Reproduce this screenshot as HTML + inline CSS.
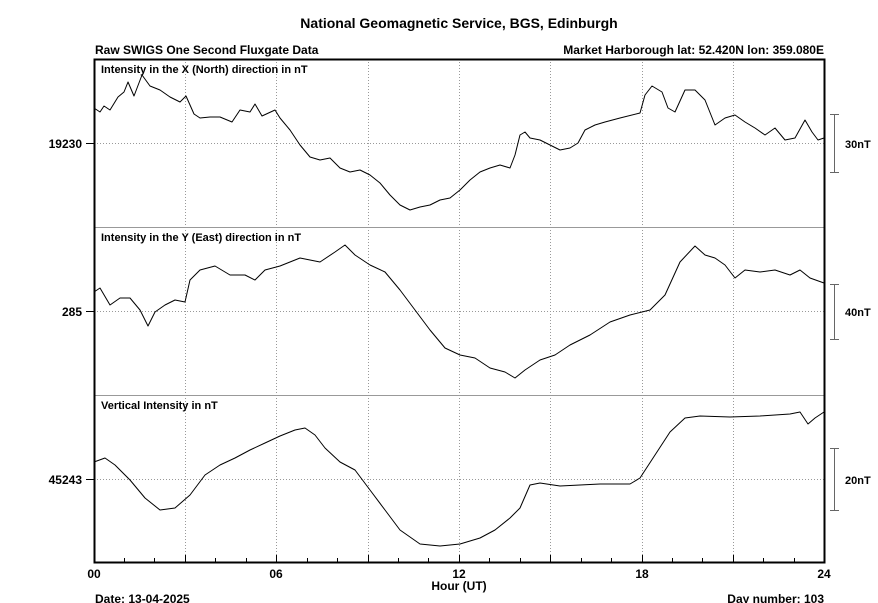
<!DOCTYPE html>
<html><head><meta charset="utf-8"><style>
html,body{margin:0;padding:0;background:#fff;width:878px;height:603px;overflow:hidden}
text{font-family:"Liberation Sans",Arial,sans-serif;font-weight:bold;fill:#000}
</style></head><body>
<svg width="878" height="603" viewBox="0 0 878 603" xmlns="http://www.w3.org/2000/svg">
<text x="459" y="28" font-size="14" text-anchor="middle">National Geomagnetic Service, BGS, Edinburgh</text>
<text x="95" y="54" font-size="12">Raw SWIGS One Second Fluxgate Data</text>
<text x="824" y="54" font-size="12" text-anchor="end">Market Harborough  lat: 52.420N lon: 359.080E</text>
<g stroke="#999" stroke-width="1" stroke-dasharray="1,2">
<line x1="185.5" y1="59" x2="185.5" y2="563"/><line x1="276.5" y1="59" x2="276.5" y2="563"/>
<line x1="368.5" y1="59" x2="368.5" y2="563"/><line x1="459.5" y1="59" x2="459.5" y2="563"/>
<line x1="550.5" y1="59" x2="550.5" y2="563"/><line x1="642.5" y1="59" x2="642.5" y2="563"/>
<line x1="733.5" y1="59" x2="733.5" y2="563"/>
<line x1="94" y1="143.5" x2="825" y2="143.5"/><line x1="94" y1="311.5" x2="825" y2="311.5"/><line x1="94" y1="479.5" x2="825" y2="479.5"/>
</g>
<g stroke="#999" stroke-width="1"><line x1="94" y1="227.5" x2="825" y2="227.5"/><line x1="94" y1="395.5" x2="825" y2="395.5"/></g>
<rect x="94.5" y="59.5" width="730" height="503" fill="none" stroke="#000" stroke-width="2"/>
<g stroke="#000" stroke-width="1">
<line x1="86" y1="143.5" x2="94" y2="143.5"/><line x1="86" y1="311.5" x2="94" y2="311.5"/><line x1="86" y1="479.5" x2="94" y2="479.5"/>
<line x1="124.5" y1="563" x2="124.5" y2="558"/><line x1="154.5" y1="563" x2="154.5" y2="558"/><line x1="185.5" y1="563" x2="185.5" y2="555"/>
<line x1="215.5" y1="563" x2="215.5" y2="558"/><line x1="246.5" y1="563" x2="246.5" y2="558"/><line x1="276.5" y1="563" x2="276.5" y2="555"/>
<line x1="307.5" y1="563" x2="307.5" y2="558"/><line x1="337.5" y1="563" x2="337.5" y2="558"/><line x1="368.5" y1="563" x2="368.5" y2="555"/>
<line x1="398.5" y1="563" x2="398.5" y2="558"/><line x1="428.5" y1="563" x2="428.5" y2="558"/><line x1="459.5" y1="563" x2="459.5" y2="555"/>
<line x1="489.5" y1="563" x2="489.5" y2="558"/><line x1="520.5" y1="563" x2="520.5" y2="558"/><line x1="550.5" y1="563" x2="550.5" y2="555"/>
<line x1="581.5" y1="563" x2="581.5" y2="558"/><line x1="611.5" y1="563" x2="611.5" y2="558"/><line x1="642.5" y1="563" x2="642.5" y2="555"/>
<line x1="672.5" y1="563" x2="672.5" y2="558"/><line x1="702.5" y1="563" x2="702.5" y2="558"/><line x1="733.5" y1="563" x2="733.5" y2="555"/>
<line x1="763.5" y1="563" x2="763.5" y2="558"/><line x1="794.5" y1="563" x2="794.5" y2="558"/>
</g>
<g font-size="12">
<text x="82" y="148" text-anchor="end">19230</text><text x="82" y="316" text-anchor="end">285</text><text x="82" y="484" text-anchor="end">45243</text>
<text x="94" y="578" text-anchor="middle">00</text><text x="276" y="578" text-anchor="middle">06</text><text x="459" y="578" text-anchor="middle">12</text><text x="642" y="578" text-anchor="middle">18</text><text x="824" y="578" text-anchor="middle">24</text>
<text x="459" y="590" text-anchor="middle">Hour (UT)</text>
<text x="95" y="603">Date: 13-04-2025</text><text x="824" y="603" text-anchor="end">Day number:  103</text>
</g>
<g font-size="11">
<text x="101" y="73">Intensity in the X (North) direction in nT</text>
<text x="101" y="241">Intensity in the Y (East) direction in nT</text>
<text x="101" y="409">Vertical Intensity in nT</text>
<text x="845" y="148">30nT</text><text x="845" y="316">40nT</text><text x="845" y="484">20nT</text>
</g>
<g stroke="#666" stroke-width="1">
<line x1="834.5" y1="114" x2="834.5" y2="172"/><line x1="830" y1="114.5" x2="839" y2="114.5"/><line x1="830" y1="172.5" x2="839" y2="172.5"/>
<line x1="834.5" y1="284" x2="834.5" y2="340"/><line x1="830" y1="284.5" x2="839" y2="284.5"/><line x1="830" y1="339.5" x2="839" y2="339.5"/>
<line x1="834.5" y1="448" x2="834.5" y2="510"/><line x1="830" y1="448.5" x2="839" y2="448.5"/><line x1="830" y1="510.5" x2="839" y2="510.5"/>
</g>
<g fill="none" stroke="#000" stroke-width="1" stroke-linejoin="round">
<polyline points="94,108 100,112 104,106 110,110 118,97 124,92 128,82 134,96 142,75 150,86 160,90 170,97 180,102 186,96 194,114 200,118 210,117 220,117 232,122 240,110 250,112 255,104 262,116 275,110 280,118 290,130 300,145 310,157 320,160 330,158 340,168 350,172 360,170 370,175 380,183 390,195 400,205 410,210 420,207 430,205 440,200 450,198 460,190 470,180 480,172 490,168 500,165 510,168 515,155 520,135 525,132 530,138 540,140 550,145 560,150 570,148 578,143 585,130 595,125 605,122 620,118 640,113 645,95 652,86 662,92 668,108 675,112 685,90 695,90 705,100 715,125 725,118 735,115 745,122 755,128 765,135 775,128 785,140 795,138 805,120 812,132 818,140 824,138"/>
<polyline points="94,292 100,288 110,305 120,298 130,298 140,310 148,326 155,312 165,305 175,300 185,302 190,280 200,270 215,266 230,275 245,275 255,280 265,270 280,266 300,258 320,262 335,252 345,245 355,255 370,265 385,272 400,290 415,310 430,330 445,348 460,355 475,358 490,368 505,372 515,378 525,370 540,360 555,355 570,345 590,335 610,322 630,315 650,310 665,295 680,262 695,246 705,255 715,258 725,265 735,278 745,270 760,272 775,270 790,275 800,270 810,278 824,283"/>
<polyline points="94,462 105,458 115,465 130,480 145,498 160,510 175,508 190,495 205,475 220,465 235,458 250,450 265,443 280,436 295,430 305,428 315,435 325,448 340,462 355,470 370,490 385,510 400,530 420,544 440,546 460,544 480,538 495,530 510,518 520,508 530,485 540,483 560,486 580,485 600,484 630,484 640,478 655,455 670,432 685,418 700,416 730,417 760,416 790,414 800,412 808,424 815,418 824,412"/>
</g>
</svg>
</body></html>
